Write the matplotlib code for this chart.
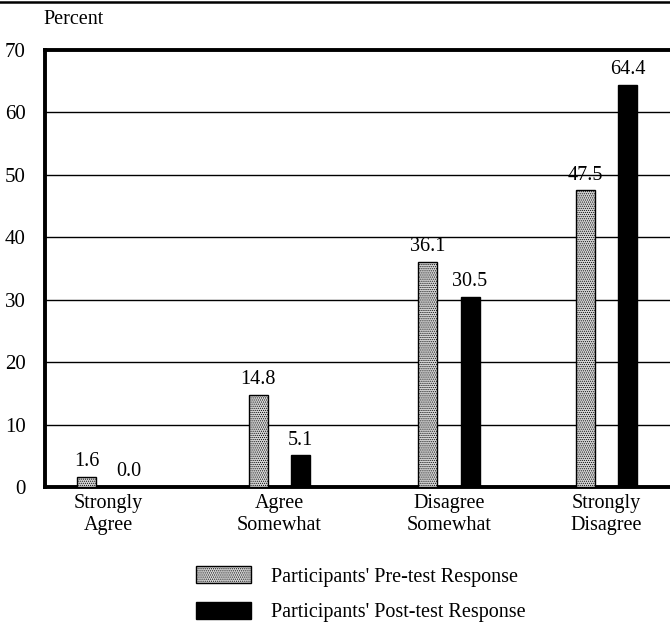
import matplotlib
matplotlib.use("Agg")
import matplotlib.pyplot as plt
from matplotlib.lines import Line2D

plt.rcParams['font.family'] = ['Liberation Serif', 'DejaVu Serif']
plt.rcParams['hatch.color'] = '#666666'
plt.rcParams['hatch.linewidth'] = 0.5

categories = ["Strongly\nAgree", "Agree\nSomewhat", "Disagree\nSomewhat", "Strongly\nDisagree"]
pre_test = [1.6, 14.8, 36.1, 47.5]
post_test = [0.0, 5.1, 30.5, 64.4]
series_names = ["Participants' Pre-test Response", "Participants' Post-test Response"]
y_ticks = [0, 10, 20, 30, 40, 50, 60, 70]

# layout of the category groups along x
group_pos = [0.0, 1.0, 1.99, 2.91]
offset = 0.123
bar_w = 0.111

W, H = 670, 633
fig = plt.figure(figsize=(W / 100, H / 100), dpi=100)
ax = fig.add_axes([45 / W, 146 / H, (W - 45) / W, 437 / H])

pre_x = [p - offset for p in group_pos]
post_x = [p + offset for p in group_pos]
b1 = ax.bar(pre_x, pre_test, width=bar_w, facecolor='#d4d4d4', edgecolor='black',
            linewidth=1.0, hatch='........', label=series_names[0], zorder=3)
b2 = ax.bar(post_x, post_test, width=bar_w, facecolor='black', edgecolor='black',
            linewidth=1.0, label=series_names[1], zorder=3)

for x, v in zip(pre_x, pre_test):
    ax.text(x, v + 0.9, f"{v:.1f}", ha='center', va='bottom', fontsize=14.5)
for x, v in zip(post_x, post_test):
    ax.text(x, v + 0.9, f"{v:.1f}", ha='center', va='bottom', fontsize=14.5)

ax.set_xlim(-0.368, 3.28)
ax.set_ylim(0, 70)
ax.set_yticks(y_ticks)
ax.set_yticklabels([str(t) for t in y_ticks], fontsize=15)
ax.set_xticks(group_pos)
ax.set_xticklabels(categories, fontsize=14.5, linespacing=1.25)
ax.tick_params(axis='y', length=0, pad=14)
ax.tick_params(axis='x', length=0, pad=5)

for t in y_ticks[1:-1]:
    ax.axhline(t, color='black', linewidth=1.0, zorder=1)

ax.spines['right'].set_visible(False)
for side in ('left', 'bottom', 'top'):
    ax.spines[side].set_linewidth(2.8)

fig.text(43 / W, 1 - 20 / H, "Percent", ha='left', va='center', fontsize=14.5)

# rule across the top of the page
fig.add_artist(Line2D([0, 1], [1 - 1.5 / H, 1 - 1.5 / H], color='black', linewidth=1.8))

leg = fig.legend(handles=[b1, b2], labels=series_names, loc='upper left',
                 bbox_to_anchor=(190 / W, 1 - 560 / H), frameon=False, fontsize=14.5,
                 handlelength=2.75, handleheight=0.95, handletextpad=0.95,
                 labelspacing=0.75, borderaxespad=0, borderpad=0.3)

fig.savefig("out.png", dpi=100)
